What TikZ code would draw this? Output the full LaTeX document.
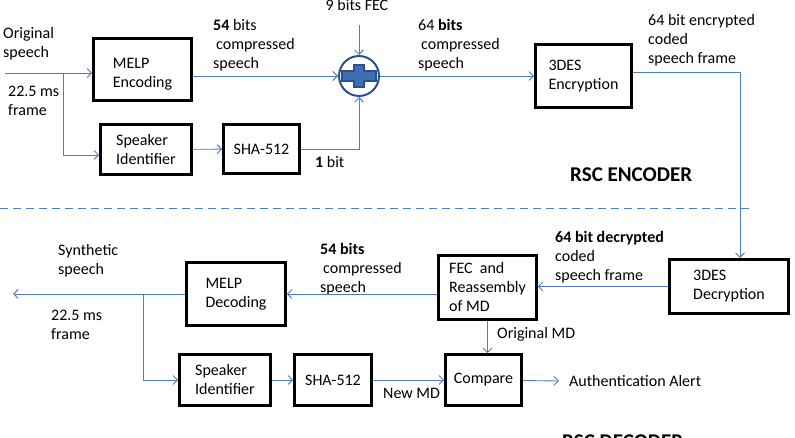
\documentclass[tikz,border=0pt]{standalone}
\usepackage{fontspec}
\setmainfont{Carlito}
\usetikzlibrary{arrows.meta}

\definecolor{linkblue}{RGB}{79,125,189}
\definecolor{ringblue}{RGB}{44,80,140}
\definecolor{plusblue}{RGB}{62,110,180}

\tikzset{
  block/.style={draw, line width=2.6pt, align=left},
  lbl/.style={align=left, inner sep=0pt, anchor=west},
  link/.style={draw=linkblue, line width=0.9pt, -{Straight Barb[length=4.5pt,width=9pt]}},
  bigbold/.style={font=\fontsize{21}{25}\selectfont\bfseries},
}

\begin{document}
\begin{tikzpicture}[x=1pt,y=-1pt,font=\fontsize{16}{19}\selectfont]
    \useasboundingbox (0,0) rectangle (795,438);

    % RSC encoder
    \node[block, minimum width=98, minimum height=62] (melpenc) at (142.5,69.5) {\rule{0pt}{20pt}MELP\\Encoding};
    \node[block, minimum width=91, minimum height=50] (spkenc) at (146,149.5) {Speaker\\Identifier};
    \node[block, minimum width=76, minimum height=49] (shaenc) at (261.5,149) {SHA-512};
    \node[circle, draw=ringblue, fill=white, line width=2pt, minimum size=40] (adder) at (359,76) {};
    \draw[ringblue, line width=1.2pt, fill=plusblue, shift={(adder.center)}]
      (-17,-5) -- (-5,-5) -- (-5,-11) -- (5,-11) -- (5,-5) -- (17,-5) -- (17,5)
      -- (5,5) -- (5,11) -- (-5,11) -- (-5,5) -- (-17,5) -- cycle;
    \node[block, minimum width=96, minimum height=63] (desenc) at (583.5,76) {3DES\\Encryption};

    \node[lbl] (orig) at (3,43.5) {Original\\speech};
    \node[lbl] (frmenc) at (8,101) {22.5 ms\\frame};
    \node[lbl] (bitsa) at (213,45.5) {\textbf{54} bits\\\hspace{3pt}compressed\\speech};
    \node[inner sep=0pt] (fecin) at (357,5) {9 bits FEC};
    \node[lbl] (bitsb) at (418,45.5) {64 \textbf{bits}\\\hspace{3pt}compressed\\speech};
    \node[lbl] (onebit) at (315,162) {\textbf{1} bit};
    \node[lbl] (encout) at (648,40.5) {64 bit encrypted\\coded\\speech frame};
    \node[lbl, bigbold] (rscenc) at (570,175) {RSC ENCODER};

    \coordinate (spin) at (5,73);
    \coordinate (spsplit) at (63,73);
    \coordinate (spknee) at (63,155);
    \coordinate (fectop) at (359,25);
    \coordinate (encdrop) at (740,72);

    \draw[link] (spin) -- (spin -| melpenc.west);
    \draw[link] (spsplit) -- (spknee) -- (spknee -| spkenc.west);
    \draw[link] (melpenc.east |- adder) -- (adder);
    \draw[link] (spkenc) -- (shaenc);
    \draw[link] (shaenc) -| (adder);
    \draw[link] (fectop) -- (adder);
    \draw[link] (adder) -- (desenc);
    \draw[link] (desenc.east |- encdrop) -- (encdrop) -- (encdrop |- 0,258);

    \draw[linkblue, line width=0.9pt, dash pattern=on 8pt off 5pt] (0,208) -- (753,208);

    % RSC decoder
    \node[block, minimum width=119, minimum height=54] (desdec) at (729,286.5) {3DES\\Decryption};
    \node[block, minimum width=98, minimum height=64] (fecbox) at (487.5,287.5) {FEC\ \ and\\Reassembly\\of MD};
    \node[block, minimum width=99, minimum height=63] (melpdec) at (236,294) {MELP\\Decoding};
    \node[block, minimum width=91, minimum height=51] (spkdec) at (225,380) {Speaker\\Identifier};
    \node[block, minimum width=77, minimum height=51] (shadec) at (333,380) {SHA-512};
    \node[block, minimum width=76, minimum height=51] (compare) at (483.5,380) {Compare};

    \node[lbl] (synth) at (58,260.5) {Synthetic\\speech};
    \node[lbl] (frmdec) at (51,324.5) {22.5 ms\\frame};
    \node[lbl] (bitsc) at (320,269.5) {\textbf{54 bits}\\\hspace{3pt}compressed\\speech};
    \node[lbl] (decout) at (555,257) {\textbf{64 bit decrypted}\\coded\\speech frame};
    \node[lbl] (origmd) at (497,334) {Original MD};
    \node[lbl] (newmd) at (383,393) {New MD};
    \node[lbl] (alert) at (569,381) {Authentication Alert};
    \node[lbl, bigbold] (rscdec) at (562,442) {RSC DECODER};

    \coordinate (spout) at (13,294);
    \coordinate (dsplit) at (143,294);

    \draw[link] (desdec.west) -- (desdec.west -| fecbox.east);
    \draw[link] (fecbox.west |- melpdec) -- (melpdec);
    \draw[link] (melpdec) -- (spout);
    \draw[link] (dsplit) |- (spkdec);
    \draw[link] (spkdec) -- (shadec);
    \draw[link] (shadec) -- (compare);
    \draw[link] (fecbox.south) -- (fecbox.south |- compare.north);
    \draw[link] (compare) -- ([xshift=-10pt]alert.west);
\end{tikzpicture}
\end{document}
